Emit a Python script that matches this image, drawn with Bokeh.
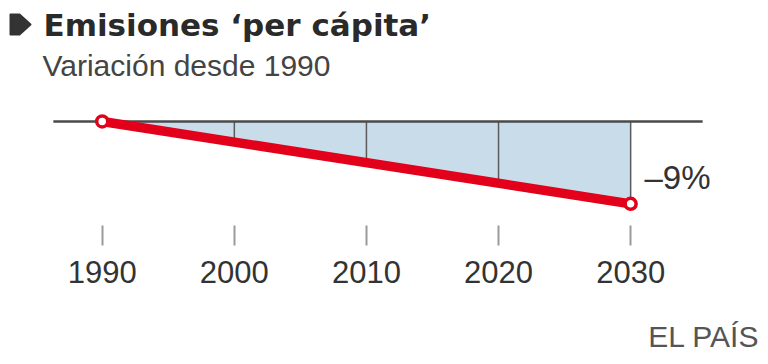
from bokeh.plotting import figure
from bokeh.models import Label, FixedTicker, Range1d
from bokeh.embed import file_html
from bokeh.resources import INLINE

# ---- data ----
years = [1990, 2030]
values = [0, -9]
tick_years = [1990, 2000, 2010, 2020, 2030]
grid_years = [2000, 2010, 2020, 2030]
title_text = "Emisiones ‘per cápita’"
subtitle_text = "Variación desde 1990"
end_label_text = "–9%"
source_text = "EL PAÍS"

RED = "#e2001a"
FILL = "#c9dcea"

W, H = 760, 356
X0, X1 = 1982.30, 2039.83
Y0, Y1 = -25.68, 13.22
AXIS_Y = -11.37          # where the year axis sits (below the data)
BASE_SHIFT = 10.5        # text baseline correction in px

p = figure(width=W, height=H,
           x_range=Range1d(X0, X1), y_range=Range1d(Y0, Y1),
           output_backend="svg", toolbar_location=None,
           min_border=0, y_axis_location=None,
           outline_line_color=None)
p.grid.visible = False


def px_x(px):
    return X0 + px / W * (X1 - X0)


def px_y(py):
    return Y1 - py / H * (Y1 - Y0)


# shaded area between zero and the series
p.varea(x=years, y1=[0] * len(years), y2=values, fill_color=FILL)

# vertical guide lines inside the shaded area
p.segment(x0=grid_years, y0=[0] * len(grid_years), x1=grid_years,
          y1=[min(values)] * len(grid_years), line_color="#5a5a5a", line_width=1.5)
# white mask below the series line
p.varea(x=years, y1=values, y2=[min(values) - 1] * len(years), fill_color="white")

# zero baseline
p.line(x=[years[0] - 3.7, years[-1] + 5.45], y=[0, 0], line_color="#4a4a4a", line_width=2.5)

# series line + end markers
p.line(x=years, y=values, line_color=RED, line_width=9.5)
p.scatter(x=years, y=values, size=11, fill_color="white", line_color=RED, line_width=3.5)

# title bullet (decoration)
bx = [10, 19, 30, 19, 10]
by = [14, 14, 24, 34, 34]
p.patch(x=[px_x(v) for v in bx], y=[px_y(v) for v in by],
        fill_color="#333333", line_color="#333333", line_join="round", line_width=2)

# axis
ax = p.xaxis[0]
ax.fixed_location = AXIS_Y
ax.ticker = FixedTicker(ticks=tick_years)
ax.axis_line_color = None
ax.major_tick_in = 0
ax.major_tick_out = 20
ax.major_tick_line_color = "#9a9a9a"
ax.major_tick_line_width = 2
ax.minor_tick_line_color = None
ax.major_label_text_font = "Liberation Sans"
ax.major_label_text_font_size = "31px"
ax.major_label_text_color = "#333333"
ax.major_label_standoff = 15


def add_text(x, baseline_px, text, font, size, color, style="normal", align="left"):
    p.add_layout(Label(x=x, y=H - baseline_px + BASE_SHIFT, x_units="screen", y_units="screen",
                       text=text, text_font=font, text_font_style=style,
                       text_font_size=size, text_color=color,
                       text_baseline="alphabetic", text_align=align))


add_text(43, 35, title_text, "DejaVu Sans", "31px", "#2a2a2a", style="bold")
add_text(42, 75, subtitle_text, "Liberation Sans", "30px", "#444444")
add_text(644, 187, end_label_text, "Liberation Sans", "33px", "#333333")
add_text(759, 346, source_text, "Liberation Sans", "30px", "#555555", align="right")

open("out.html", "w").write(file_html(p, INLINE))
